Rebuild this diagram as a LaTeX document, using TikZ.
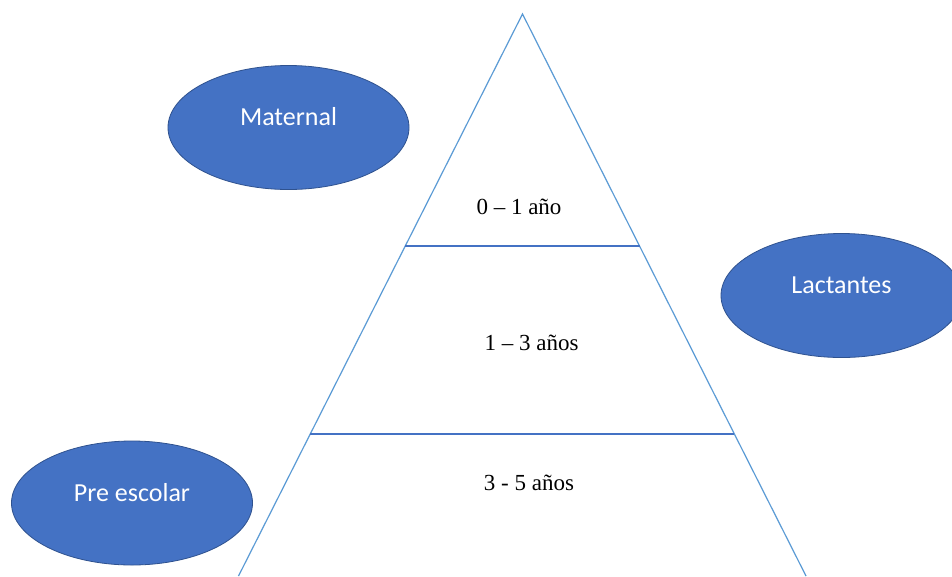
\documentclass[tikz,border=0pt]{standalone}
\usepackage{fontspec}
\setmainfont{Liberation Serif}
\newfontfamily\calib{Carlito}
\usetikzlibrary{shapes.geometric,calc}
\definecolor{ellfill}{HTML}{4472C4}
\definecolor{elldraw}{HTML}{2F528F}
\definecolor{sideblue}{HTML}{5B9BD5}
\definecolor{levelblue}{HTML}{4472C4}
\tikzset{
  bubble/.style={ellipse, fill=ellfill, draw=elldraw, line width=0.8pt,
    minimum width=241pt, minimum height=124pt, inner sep=0pt,
    text=white, font=\calib\fontsize{26}{30}\selectfont,
    text height=18pt, text depth=22pt},
  side/.style={draw=sideblue, line width=1.2pt},
  level/.style={draw=levelblue, line width=1.5pt},
  agelabel/.style={anchor=base, inner sep=0pt, font=\fontsize{23}{27}\selectfont, text=black}
}
\begin{document}
\begin{tikzpicture}[x=1pt,y=-1pt]
\useasboundingbox (0,0) rectangle (952,576);
\clip (0,0) rectangle (952,576);
\fill[white] (0,0) rectangle (952,576);
% triangle
\coordinate (apex) at (522.5,14);
\coordinate (bl) at (238.5,576);
\coordinate (br) at (806,576);
\draw[side] (bl) -- (apex) -- (br);
\coordinate (l1) at ($(apex)!0.4128!(bl)$);
\coordinate (r1) at ($(apex)!0.4128!(br)$);
\coordinate (l2) at ($(apex)!0.7473!(bl)$);
\coordinate (r2) at ($(apex)!0.7473!(br)$);
\draw[level] (l1) -- (r1);
\draw[level] (l2) -- (r2);
% labels
\node[agelabel] (a1) at (519,214) {0 – 1 año};
\node[agelabel] (a2) at (531.5,350.5) {1 – 3 años};
\node[agelabel] (a3) at (529,490) {3 - 5 años};
% ellipses
\node[bubble] (maternal) at (288.5,127.5) {Maternal};
\node[bubble] (lactantes) at (841.5,295.5) {Lactantes};
\node[bubble] (preescolar) at (132,503) {Pre escolar};
\end{tikzpicture}
\end{document}
